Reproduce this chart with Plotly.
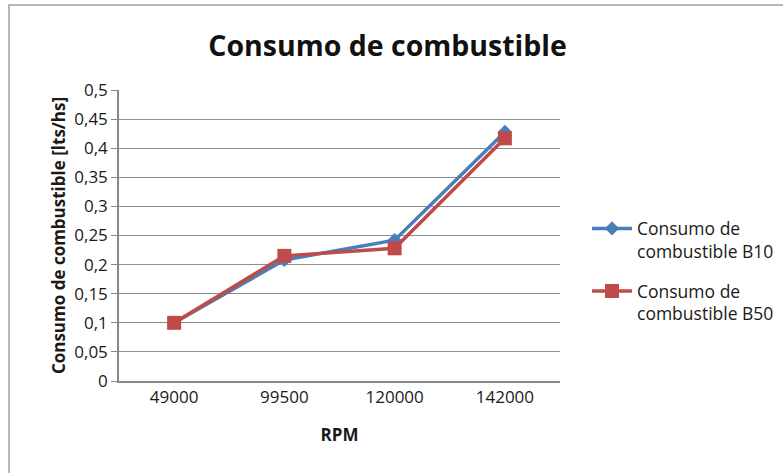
import plotly.graph_objects as go

rpm = ["49000", "99500", "120000", "142000"]
b10 = [0.10, 0.208, 0.242, 0.428]
b50 = [0.10, 0.215, 0.228, 0.417]
y_ticks = [0, 0.05, 0.1, 0.15, 0.2, 0.25, 0.3, 0.35, 0.4, 0.45, 0.5]

font_family = "Open Sans, Lato, sans-serif"

fig = go.Figure()
fig.add_trace(go.Scatter(
    x=rpm, y=b10, mode="lines+markers",
    name="Consumo de<br>combustible B10", legendgroup="b10",
    line=dict(color="#4a7ebb", width=3.5),
    marker=dict(symbol="diamond", size=11, color="#4a7ebb"),
))
fig.add_trace(go.Scatter(
    x=rpm, y=b50, mode="lines+markers",
    name="Consumo de<br>combustible B50", legendgroup="b50",
    line=dict(color="#be4b48", width=3.5),
    marker=dict(symbol="square", size=14, color="#be4b48"),
))

L, R, T, B = 119, 560, 90, 381
W, H = 783, 473

def px(x):
    return (x - L) / (R - L)

def py(y):
    return (B - y) / (B - T)

fig.update_layout(
    width=W, height=H,
    margin=dict(l=L, r=W - R, t=T, b=H - B, autoexpand=False),
    paper_bgcolor="white", plot_bgcolor="white",
    separators=",.",
    font=dict(family=font_family, color="#1a1a1a", size=17),
    title=dict(text="<b>Consumo de combustible</b>", x=0.495, xanchor="center",
               y=1 - 46 / H, yanchor="middle",
               font=dict(size=28.5, family=font_family, color="#111111")),
    showlegend=True,
    legend=dict(x=px(587), y=py(271), xanchor="left", yanchor="middle",
                font=dict(size=17.5, family=font_family, color="#1a1a1a"),
                tracegroupgap=14, itemwidth=40, valign="top",
                bgcolor="rgba(0,0,0,0)"),
    xaxis=dict(type="category", range=[-0.5, 3.5], showgrid=False, showline=True,
               linecolor="#888888", linewidth=1.5, ticks="", automargin=False,
               tickfont=dict(size=17),
               title=dict(text="<b>RPM</b>", font=dict(size=17), standoff=22)),
    yaxis=dict(range=[0, 0.5], tickvals=y_ticks, showgrid=True,
               gridcolor="#8c8c8c", gridwidth=1.4, showline=True,
               linecolor="#888888", linewidth=1.5, ticks="outside",
               ticklen=6, tickcolor="#888888", tickformat="~g",
               tickfont=dict(size=17), zeroline=False, automargin=False,
               title=dict(text="<b>Consumo de combustible [lts/hs]</b>",
                          font=dict(size=17), standoff=4)),
    shapes=[dict(type="rect", xref="paper", yref="paper",
                 x0=px(9), x1=px(800), y0=py(490), y1=py(5),
                 line=dict(color="#a0a0a0", width=1.5), fillcolor="rgba(0,0,0,0)")],
)

fig.write_html("out.html", config={"displayModeBar": False},
               post_script="document.body.style.margin='0';document.body.style.overflow='hidden';")
